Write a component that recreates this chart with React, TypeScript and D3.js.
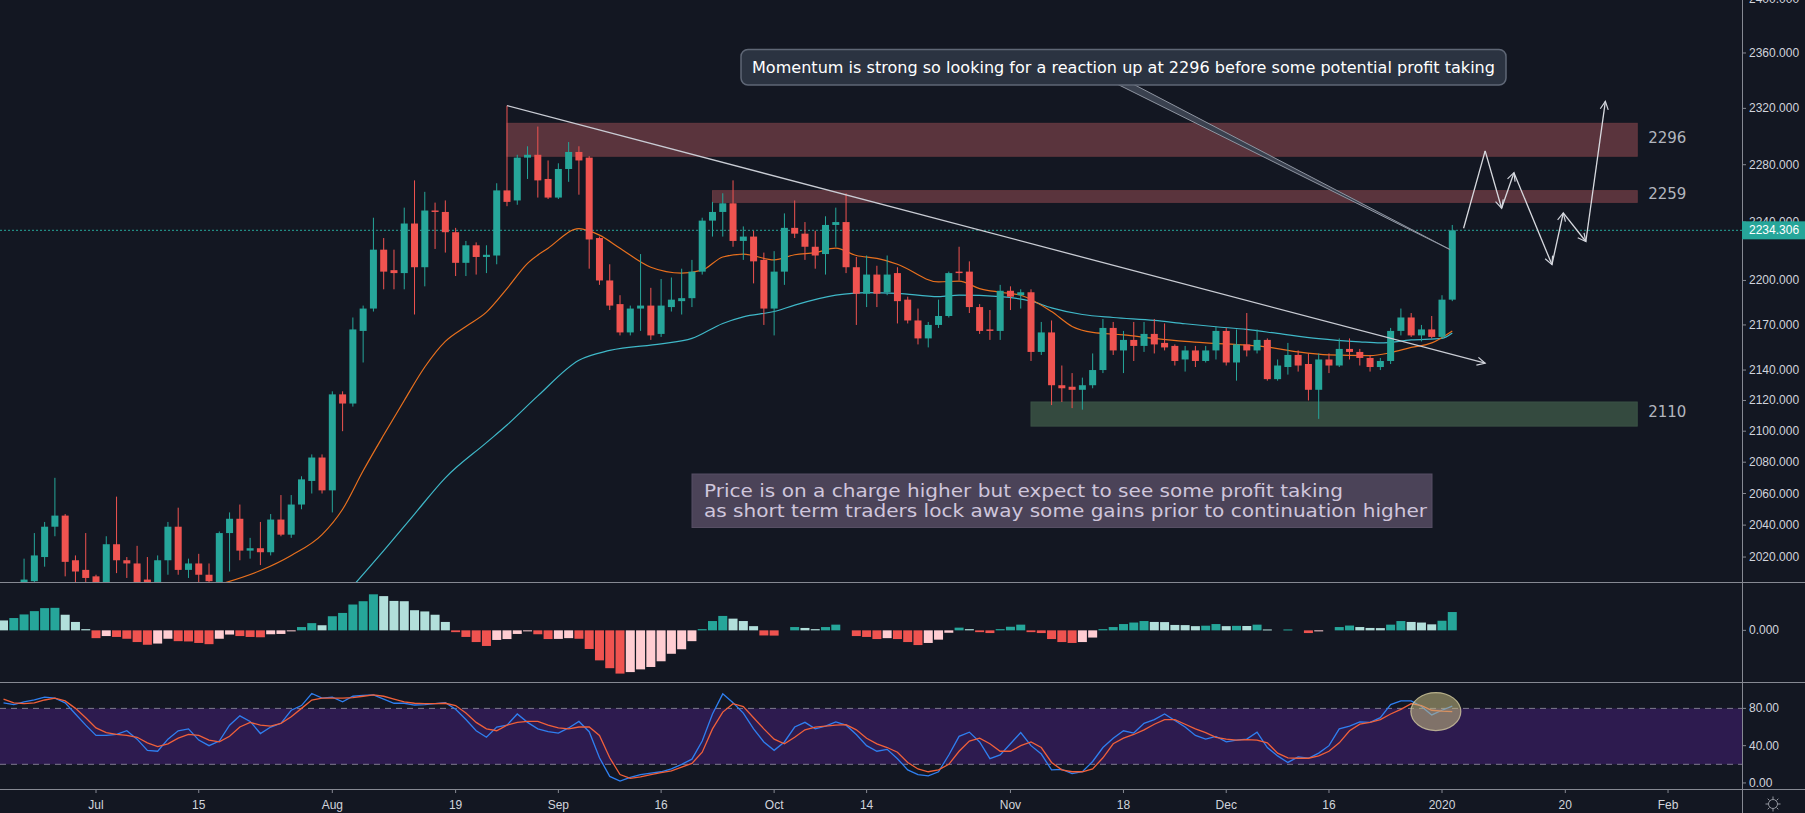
import React from "react";
import * as d3 from "d3";

// layout of the TradingView-like screen
const W = 1805;
const H = 813;
const AXIS_X = 1742;
const MAIN_BOTTOM = 582;
const MACD_BOTTOM = 682;
const STOCH_BOTTOM = 789;

const BG = "#131722";
const UP = "#26a69a";
const DOWN = "#ef5350";
const TEXT = "#d1d4dc";
const LINE = "#868993";
const FONT = "Liberation Sans, Arial, sans-serif";

// bar index 0 = 1 Jul 2019, trading days only
const FIRST_CANDLE = -7;
const FIRST_OSC = -9;

// open, high, low, close
const candles: [number, number, number, number][] = [
  [2002, 2019, 1998, 2006], [2005, 2035, 2000, 2021], [2020, 2042, 2014, 2039], [2039, 2070, 2033, 2046],
  [2046, 2047, 2008, 2017], [2018, 2021, 2003, 2011], [2012, 2035, 2003, 2007],
  [2008, 2009, 2000, 2004], [2002, 2033, 1998, 2028], [2028, 2058, 2010, 2018], [2018, 2020, 2007, 2016],
  [2016, 2027, 1998, 2004], [2006, 2020, 1998, 2004], [2003, 2021, 1999, 2018], [2018, 2042, 2009, 2039],
  [2039, 2051, 2009, 2012], [2012, 2019, 2007, 2016],
  [2016, 2022, 2003, 2009], [2009, 2016, 2002, 2005], [2004, 2036, 2002, 2035], [2035, 2048, 2011, 2044],
  [2044, 2053, 2018, 2024], [2024, 2032, 2019, 2025.5], [2025.5, 2042, 2015, 2023], [2023, 2047, 2021, 2043.5],
  [2043.5, 2059, 2033, 2034], [2034, 2059, 2032, 2053],
  [2053, 2071, 2050, 2069], [2068, 2085, 2060, 2083], [2083, 2085, 2060, 2062], [2062, 2126, 2048, 2124],
  [2124, 2126, 2100, 2118], [2118, 2175, 2116, 2167], [2166, 2183, 2145, 2181], [2181, 2243, 2179, 2221],
  [2221, 2229, 2194, 2206], [2207, 2221, 2194, 2205],
  [2205, 2250, 2194, 2239], [2239, 2269, 2177, 2209], [2209, 2261, 2196, 2248], [2248, 2253.5, 2221.5, 2247],
  [2247, 2255, 2219, 2233], [2233, 2236, 2203, 2212], [2212, 2227, 2203, 2224], [2224, 2226, 2204, 2216],
  [2216, 2224, 2205, 2217.5], [2217, 2267, 2211, 2262],
  [2262, 2322, 2251, 2254], [2255, 2287, 2252, 2285], [2285, 2293, 2270, 2287], [2287, 2307, 2257, 2269],
  [2270, 2283, 2256, 2257], [2257, 2281, 2256, 2277], [2277, 2296, 2268, 2289], [2289, 2293, 2259, 2283],
  [2285, 2286, 2208, 2228], [2229, 2230, 2197, 2200],
  [2200, 2211, 2180, 2183], [2184, 2190, 2163, 2165], [2165, 2183, 2163, 2181], [2181, 2218, 2166, 2183],
  [2183, 2195, 2160, 2163], [2164, 2201, 2162, 2183], [2182, 2202, 2179, 2187], [2186, 2208, 2177, 2188],
  [2188, 2214, 2182, 2206], [2206, 2243, 2204, 2241],
  [2241, 2254, 2230, 2247], [2247, 2260, 2230, 2253], [2253, 2269, 2223, 2227], [2227, 2237, 2214, 2230],
  [2230, 2234, 2198, 2213], [2214, 2219, 2170, 2181], [2181, 2220, 2163, 2206], [2206, 2246, 2197, 2236],
  [2236, 2255, 2229, 2232], [2232, 2240, 2214, 2223],
  [2223, 2234, 2208, 2217], [2218, 2244, 2204, 2238], [2238, 2250, 2223, 2240], [2240, 2260, 2205, 2209],
  [2209, 2216, 2170, 2191], [2191, 2217, 2182, 2204], [2204, 2210, 2182, 2191], [2192, 2217, 2190, 2204],
  [2205, 2209, 2171, 2186], [2187, 2189, 2171, 2173],
  [2173, 2181, 2157, 2161], [2161, 2172, 2155, 2170], [2170, 2187, 2168, 2176], [2176, 2206, 2175, 2205],
  [2206, 2223, 2200, 2205], [2206, 2213, 2178, 2182], [2182, 2184, 2164, 2166], [2167, 2180, 2160, 2166],
  [2166, 2197, 2160, 2193], [2193, 2196, 2180, 2189],
  [2190, 2194, 2181, 2192], [2192, 2194, 2146, 2152], [2152, 2172, 2150, 2165], [2165, 2173, 2117, 2130],
  [2130, 2143, 2119, 2128], [2129, 2138, 2115, 2127], [2127, 2135, 2114, 2130], [2130, 2151, 2128, 2140],
  [2140, 2174, 2138, 2168], [2168, 2172, 2150, 2153],
  [2153, 2166, 2138, 2160], [2160, 2172, 2146, 2156], [2156, 2172, 2152, 2164], [2164, 2174, 2151, 2157],
  [2158, 2171, 2153, 2155], [2156, 2157, 2143, 2146], [2147, 2156, 2139, 2153], [2153, 2156, 2142, 2146],
  [2146, 2156, 2145, 2153], [2153, 2169, 2147, 2166],
  [2166, 2168, 2143, 2145], [2145, 2167, 2133, 2157], [2157, 2178, 2149, 2153], [2153, 2167, 2151, 2160],
  [2160, 2161, 2133, 2134], [2134, 2147, 2133, 2143], [2142, 2158, 2137, 2150], [2150, 2153, 2139, 2143],
  [2144, 2151, 2120, 2127], [2127, 2151, 2108, 2147],
  [2147, 2151, 2138, 2143], [2143, 2161, 2142, 2154], [2154, 2161, 2147, 2152], [2152, 2154, 2143, 2148],
  [2148, 2150, 2139, 2142], [2142, 2148, 2140, 2146], [2146, 2168, 2144, 2166], [2166, 2181, 2163, 2175],
  [2175, 2178, 2162, 2163], [2163, 2170, 2159, 2167],
  [2167, 2176, 2161, 2162], [2162, 2190, 2161, 2187], [2187, 2238, 2186, 2234.306],
];
const lastPrice = 2234.306;

// moving averages: [bar, value]
const maFast: [number, number][] = [
  [12, 2003], [16, 2011.6], [19, 2021], [22, 2034], [24, 2050], [26, 2074.5], [28, 2097.5], [30, 2120],
  [32, 2142], [34, 2159], [36, 2169], [38, 2178.6], [40, 2194.5], [42, 2211.6], [44, 2222], [47, 2235.5],
  [49, 2231], [51, 2222], [54, 2209], [57, 2205], [59, 2207], [61, 2216], [63, 2218], [66, 2214],
  [68, 2217.5], [70, 2219], [72, 2222], [74, 2217], [76, 2215], [78, 2211], [82, 2199], [84, 2199.6],
  [86, 2194.5], [88, 2192], [90, 2190], [93, 2179], [95, 2169], [97, 2165], [100, 2163.4], [103, 2161],
  [106, 2159], [108, 2158], [112, 2156.5], [114, 2155.3], [117, 2152], [120, 2150], [124, 2149.5],
  [126, 2151.5], [128, 2155], [130, 2158], [132, 2166],
];
const maSlow: [number, number][] = [
  [25, 2002], [28, 2024], [31, 2047], [34, 2070], [38, 2092.6], [40, 2104], [43, 2123], [47, 2146.5],
  [50, 2153], [55, 2157.4], [58, 2161], [61, 2171], [63, 2175.4], [66, 2179], [68, 2183.3], [72, 2190],
  [75, 2191.8], [78, 2191.3], [82, 2189], [84, 2190], [88, 2189], [91, 2186], [93, 2181.5], [96, 2177],
  [99, 2175], [103, 2173], [106, 2170.8], [109, 2168.8], [112, 2167], [115, 2164.3], [119, 2160.8],
  [123, 2158.7], [125, 2158], [128, 2160], [131, 2161], [132, 2164.6],
];

// MACD histogram from bar -9
const macdHist = [
  3.3, 4.1, 5.3, 6.4, 7.4, 7.5, 5.2, 2.8, 0.4,
  -2.6, -1.9, -2.2, -2.8, -3.9, -4.8, -4.4, -2.8, -3.6, -3.7,
  -4.2, -4.6, -2.8, -1.4, -1.9, -2.2, -2.3, -1.3, -1.2, -0.3,
  1.1, 2.4, 1.7, 4.7, 5.8, 8.6, 9.7, 12, 11.4, 9.8,
  9.7, 6.7, 6.3, 5.2, 2.8, -0.6, -2.2, -3.9, -5.2, -3.2,
  -2.9, -1.2, -0.2, -1.3, -2.9, -2.85, -2.6, -2.8, -6.2, -10,
  -12.6, -14.4, -13.9, -13, -12.2, -10.3, -7.8, -6.3, -3.6, 0.4,
  3.1, 4.8, 3.9, 3.1, 1.4, -1.7, -1.75, 0, 1.1, 0.8,
  0.4, 1.1, 1.9, 0, -1.9, -2.2, -2.9, -2.6, -2.9, -3.9,
  -4.9, -4.2, -3.1, -0.8, 0.9, 0.4, -0.6, -0.9, 0.4, 1.2,
  1.9, -0.6, -0.9, -2.9, -3.9, -4.2, -3.9, -2.4, 0.4, 1.1,
  2.1, 2.6, 3.1, 2.8, 2.75, 1.8, 1.75, 1.4, 1.55, 2.1,
  1.4, 1.5, 1.45, 1.9, 0.3, 0, 0.3, 0, -0.9, -0.15,
  0, 1.1, 1.6, 1.1, 0.8, 0.75, 1.9, 3.1, 2.8, 2.6,
  2.0, 3.2, 6.1,
];

// Stoch RSI %K and %D from bar -9
const stochK = [
  86, 84, 87, 89, 92, 91, 86, 74, 62,
  51, 51, 52, 56, 47, 35, 34, 47, 56, 58,
  46, 40, 45, 62, 72, 66, 53, 60, 64, 78,
  83, 96, 91, 92, 87, 93, 94, 94.5, 90, 85.5,
  85.5, 83.6, 84, 85, 86, 79, 68, 56, 49, 60,
  62, 74, 65, 58, 55, 53.5, 59, 66, 55, 27,
  7, 2, 6, 9, 10.5, 12, 15, 20, 25.5, 45,
  74, 95.6, 86, 75, 58, 44, 35, 44, 60, 65,
  58, 61, 65.5, 62, 52, 40, 34, 36, 26,
  14, 9, 7.5, 12, 30, 50, 54.5, 44, 26, 30, 42,
  54, 40, 31, 14, 14.5, 10, 12, 23, 38, 48,
  56, 53.5, 64, 68, 74, 67, 60, 51, 47, 50,
  44, 46, 47, 54.5, 38, 29, 22, 28, 26.5, 32,
  40, 58, 61, 65.5, 65, 70, 84, 88, 88, 82,
  73, 78, 82.5,
];
const stochD = [
  90, 86, 85, 86, 89, 91, 88, 80, 70,
  59, 54, 52, 51, 49, 43, 39, 42, 48, 52,
  51, 46, 44, 50, 60, 65, 62, 61, 64, 71,
  80, 89, 91, 91, 91, 91.5, 93, 94.5, 93, 90,
  87, 85.5, 85, 85, 85.5, 83, 75, 65, 58, 56,
  62, 65, 66, 66, 62, 59, 58, 60, 60, 51,
  27, 9, 5, 6.5, 9, 11, 13, 17, 21, 33,
  58, 76, 85, 82, 70, 58, 47, 42, 49, 57,
  60, 61, 62, 62.5, 57, 48, 42, 38, 33,
  22, 15, 12, 14, 20, 34, 45, 48, 42, 34, 34,
  40, 44, 38, 22, 14, 12, 12, 15, 27, 42,
  48, 52, 57, 63, 68, 68, 63, 58, 54, 49,
  47, 46, 46.5, 46, 43, 32, 27, 26.5, 26.5, 29,
  34, 43, 56, 63, 65, 68, 74, 79, 85, 83,
  78, 77, 76.5,
];

// axes
const priceTicks = [2400, 2360, 2320, 2280, 2240, 2200, 2170, 2140, 2120, 2100, 2080, 2060, 2040, 2020];
const timeTickBars = [0, 10, 23, 35, 45, 55, 66, 75, 89, 100, 110, 120, 131, 143, 153];
const timeTickLabels = ["Jul", "15", "Aug", "19", "Sep", "16", "Oct", "14", "Nov", "18", "Dec", "16", "2020", "20", "Feb"];

// drawn zones
const zoneLabels = ["2296", "2259", "2110"];
const zoneStartBar = [40, 60, 91];
const zoneLow = [2286, 2253.7, 2103.3];
const zoneHigh = [2309.3, 2261.8, 2119];
const zoneEndBar = 150;

// trend line and projected path
const trendBars = [40, 135.2];
const trendPrices = [2322, 2144.5];
const pathBars = [133.1, 135.2, 136.8, 138, 141.7, 142.8, 145, 146.9];
const pathPrices = [2235.7, 2289.8, 2249.6, 2274.4, 2210.8, 2246.3, 2226.6, 2325];
const calloutTip: [number, number] = [131.8, 2221];
const highlight: [number, number] = [130.4, 76.6];

const calloutText = "Momentum is strong so looking for a reaction up at 2296 before some potential profit taking";
const noteLines = [
  "Price is on a charge higher but expect to see some profit taking",
  "as short term traders lock away some gains prior to continuation higher",
];

export default function App() {
  const x = d3.scaleLinear().domain([0, 131]).range([96, 1442]);
  const y = d3.scaleLog().domain([2004.5, 2398.9]).range([MAIN_BOTTOM, 0]);
  const yMacd = d3.scaleLinear().domain([-17.2, 16.1]).range([MACD_BOTTOM, MAIN_BOTTOM]);
  const yStoch = d3.scaleLinear().domain([-6.5, 108.3]).range([STOCH_BOTTOM, MACD_BOTTOM]);

  const maLine = d3
    .line<[number, number]>()
    .x((d) => x(d[0]))
    .y((d) => y(d[1]))
    .curve(d3.curveMonotoneX);
  const oscLine = d3
    .line<number>()
    .x((_, i) => x(i + FIRST_OSC))
    .y((d) => yStoch(d));

  const histColor = (i: number) => {
    const v = macdHist[i];
    const prev = i > 0 ? macdHist[i - 1] : Infinity;
    if (v >= 0) return v > prev ? UP : "#b2dfdb";
    return v < prev ? DOWN : "#ffcdd2";
  };

  const body = 7;
  const barW = 9;
  const priceY = y(lastPrice);

  // callout geometry
  const cbx0 = 741, cbx1 = 1506, cby0 = 49.5, cby1 = 85;
  const tipX = x(calloutTip[0]);
  const tipY = y(calloutTip[1]);

  const segs = pathBars.slice(1).map((b, i) => ({
    x1: x(pathBars[i]),
    y1: y(pathPrices[i]),
    x2: x(b),
    y2: y(pathPrices[i + 1]),
  }));

  const gearSpokes = d3.range(8).map((k) => (k * Math.PI) / 4);

  return (
    <div>
      <style>{`body{margin:0;background:${BG};}`}</style>
      <svg width={W} height={H} style={{ display: "block", background: BG }}>
        <defs>
          <clipPath id="mainClip">
            <rect x={0} y={0} width={AXIS_X} height={MAIN_BOTTOM} />
          </clipPath>
          <clipPath id="macdClip">
            <rect x={0} y={MAIN_BOTTOM} width={AXIS_X} height={MACD_BOTTOM - MAIN_BOTTOM} />
          </clipPath>
          <clipPath id="stochClip">
            <rect x={0} y={MACD_BOTTOM} width={AXIS_X} height={STOCH_BOTTOM - MACD_BOTTOM} />
          </clipPath>
          <marker id="chev" markerUnits="userSpaceOnUse" markerWidth={12} markerHeight={12} refX={9} refY={5} orient="auto">
            <path d="M1,1 L9,5 L1,9" fill="none" stroke={TEXT} strokeWidth={1.2} />
          </marker>
        </defs>

        {/* main pane */}
        <g clipPath="url(#mainClip)">
          {zoneLabels.map((lab, i) => (
            <rect
              key={lab}
              x={x(zoneStartBar[i])}
              y={y(zoneHigh[i])}
              width={x(zoneEndBar) - x(zoneStartBar[i])}
              height={y(zoneLow[i]) - y(zoneHigh[i])}
              fill={i < 2 ? "#5a343d" : "#344a3f"}
              stroke={i < 2 ? "#64383f" : "#3a5245"}
              strokeWidth={1}
            />
          ))}

          <line x1={0} x2={AXIS_X} y1={priceY} y2={priceY} stroke={UP} strokeWidth={1} strokeDasharray="2 2" />

          <path d={maLine(maSlow) || ""} fill="none" stroke="#3fb8c8" strokeWidth={1.2} />
          <path d={maLine(maFast) || ""} fill="none" stroke="#e8701e" strokeWidth={1.2} />

          {candles.map((c, i) => {
            const [o, h, l, cl] = c;
            const cx = x(i + FIRST_CANDLE);
            const col = cl >= o ? UP : DOWN;
            const top = y(Math.max(o, cl));
            const bot = y(Math.min(o, cl));
            return (
              <g key={i}>
                <line x1={cx} x2={cx} y1={y(h)} y2={y(l)} stroke={col} strokeWidth={1} />
                <rect x={cx - body / 2} y={top} width={body} height={Math.max(1, bot - top)} fill={col} />
              </g>
            );
          })}

          <line
            x1={x(trendBars[0])}
            y1={y(trendPrices[0])}
            x2={x(trendBars[1])}
            y2={y(trendPrices[1])}
            stroke="#c9ccd4"
            strokeWidth={1.3}
            markerEnd="url(#chev)"
          />

          {segs.map((s, i) => (
            <line key={i} {...s} stroke="#d8dae0" strokeWidth={1.3} markerEnd={i > 0 ? "url(#chev)" : undefined} />
          ))}

          {/* callout with pointer */}
          <polygon
            points={`${cbx0 + 376},${cby1 - 1} ${cbx0 + 392},${cby1 - 1} ${tipX},${tipY}`}
            fill="#3a414f"
            stroke="#8f95a1"
            strokeWidth={1}
          />
          <rect x={cbx0} y={cby0} width={cbx1 - cbx0} height={cby1 - cby0} rx={7} fill="#2b3341" stroke="#5f6776" strokeWidth={1.5} />
          <text
            x={752}
            y={73}
            fill="#ffffff"
            fontFamily="DejaVu Sans, sans-serif"
            fontSize={15.5}
            textLength={743}
            lengthAdjust="spacingAndGlyphs"
          >
            {calloutText}
          </text>

          {/* note box */}
          <rect x={692} y={474} width={740} height={53.5} fill="#4b4358" stroke="#574f64" strokeWidth={1} />
          {noteLines.map((t, i) => (
            <text
              key={i}
              x={704}
              y={497 + i * 20}
              fill="#cfc6dc"
              fontFamily="DejaVu Sans, sans-serif"
              fontSize={18}
              textLength={i === 0 ? 639 : 723}
              lengthAdjust="spacingAndGlyphs"
            >
              {t}
            </text>
          ))}
        </g>

        {/* zone labels */}
        {zoneLabels.map((lab, i) => (
          <text
            key={lab}
            x={x(zoneEndBar) + 11}
            y={(y(zoneLow[i]) + y(zoneHigh[i])) / 2 - 2}
            dominantBaseline="central"
            fill="#b2b5be"
            fontFamily="DejaVu Sans, sans-serif"
            fontSize={15}
          >
            {lab}
          </text>
        ))}

        {/* MACD pane */}
        <g clipPath="url(#macdClip)">
          {macdHist.map((v, i) =>
            v === 0 ? null : (
              <rect
                key={i}
                x={x(i + FIRST_OSC) - barW / 2}
                y={Math.min(yMacd(v), yMacd(0))}
                width={barW}
                height={Math.max(1, Math.abs(yMacd(v) - yMacd(0)))}
                fill={histColor(i)}
              />
            )
          )}
        </g>

        {/* Stoch RSI pane */}
        <rect x={0} y={yStoch(80)} width={AXIS_X} height={yStoch(20) - yStoch(80)} fill="#2d1b4f" />
        {[80, 20].map((v) => (
          <line key={v} x1={0} x2={AXIS_X} y1={yStoch(v)} y2={yStoch(v)} stroke="#7f7a8f" strokeWidth={1} strokeDasharray="6 5" />
        ))}
        <g clipPath="url(#stochClip)">
          <path d={oscLine(stochK) || ""} fill="none" stroke="#2f7ff0" strokeWidth={1.3} />
          <path d={oscLine(stochD) || ""} fill="none" stroke="#f0603a" strokeWidth={1.3} />
          <ellipse
            cx={x(highlight[0])}
            cy={yStoch(highlight[1])}
            rx={25}
            ry={19}
            fill="rgba(196,186,128,0.55)"
            stroke="rgba(226,218,170,0.7)"
            strokeWidth={1.2}
          />
        </g>

        {/* separators */}
        {[MAIN_BOTTOM, MACD_BOTTOM, STOCH_BOTTOM].map((v) => (
          <line key={v} x1={0} x2={W} y1={v + 0.5} y2={v + 0.5} stroke={LINE} strokeWidth={1} />
        ))}
        <line x1={AXIS_X + 0.5} x2={AXIS_X + 0.5} y1={0} y2={H} stroke={LINE} strokeWidth={1} />

        {/* price axis */}
        {priceTicks.map((p) => (
          <g key={p}>
            <line x1={AXIS_X} x2={AXIS_X + 4} y1={y(p)} y2={y(p)} stroke={LINE} />
            <text x={AXIS_X + 7} y={y(p)} dominantBaseline="central" fill={TEXT} fontFamily={FONT} fontSize={12}>
              {p.toFixed(3)}
            </text>
          </g>
        ))}
        <rect x={AXIS_X} y={priceY - 9} width={W - AXIS_X} height={18} fill={UP} />
        <text x={AXIS_X + 7} y={priceY} dominantBaseline="central" fill="#ffffff" fontFamily={FONT} fontSize={12}>
          {lastPrice.toFixed(3)}
        </text>

        {/* MACD axis */}
        <line x1={AXIS_X} x2={AXIS_X + 4} y1={yMacd(0)} y2={yMacd(0)} stroke={LINE} />
        <text x={AXIS_X + 7} y={yMacd(0)} dominantBaseline="central" fill={TEXT} fontFamily={FONT} fontSize={12}>
          0.000
        </text>

        {/* stoch axis */}
        {[80, 40, 0].map((v) => (
          <g key={v}>
            <line x1={AXIS_X} x2={AXIS_X + 4} y1={yStoch(v)} y2={yStoch(v)} stroke={LINE} />
            <text x={AXIS_X + 7} y={yStoch(v)} dominantBaseline="central" fill={TEXT} fontFamily={FONT} fontSize={12}>
              {v.toFixed(2)}
            </text>
          </g>
        ))}

        {/* time axis */}
        {timeTickBars.map((b, i) => (
          <g key={b}>
            <line x1={x(b)} x2={x(b)} y1={STOCH_BOTTOM} y2={STOCH_BOTTOM + 4} stroke={LINE} />
            <text x={x(b)} y={805} textAnchor="middle" dominantBaseline="central" fill={TEXT} fontFamily={FONT} fontSize={12}>
              {timeTickLabels[i]}
            </text>
          </g>
        ))}

        {/* settings gear */}
        <g transform="translate(1773,804)" stroke="#9598a1" fill="none" strokeWidth={1}>
          <circle r={4.5} />
          {gearSpokes.map((a, k) => (
            <line key={k} x1={Math.cos(a) * 5} y1={Math.sin(a) * 5} x2={Math.cos(a) * 7.5} y2={Math.sin(a) * 7.5} />
          ))}
        </g>
      </svg>
    </div>
  );
}
